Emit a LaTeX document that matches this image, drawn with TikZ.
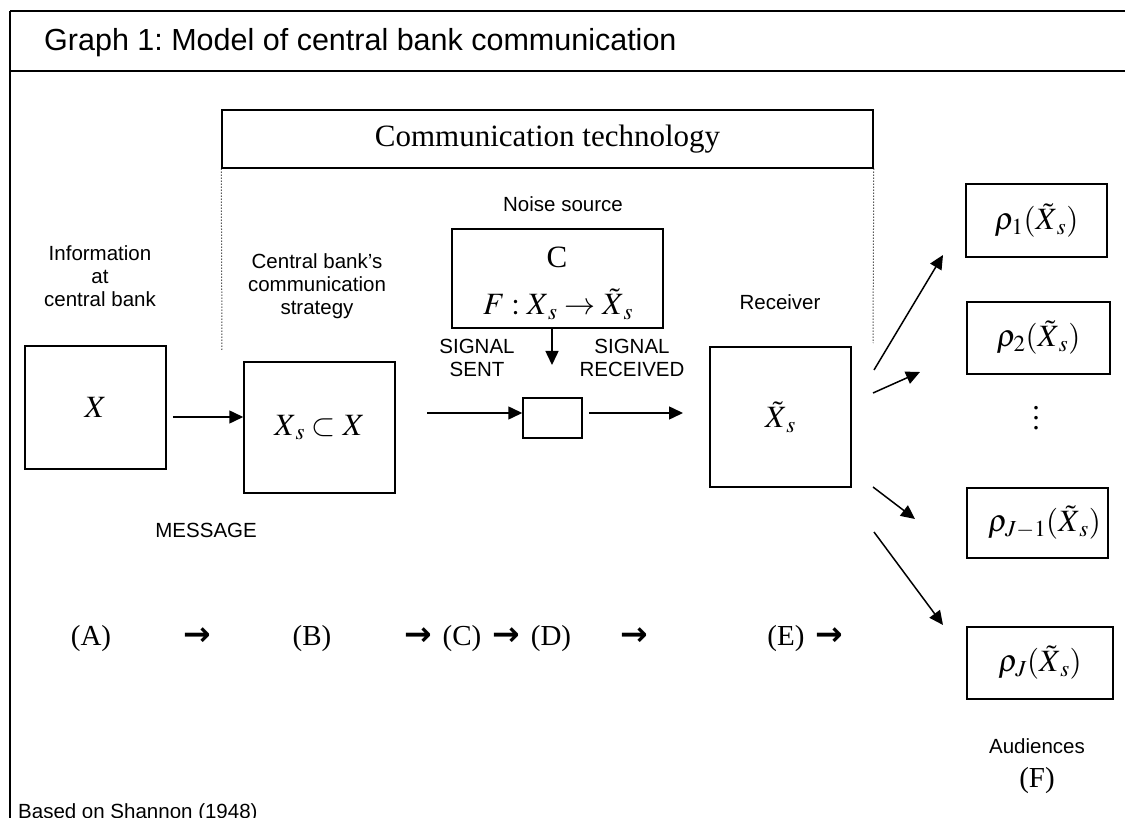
\documentclass[tikz,border=0pt]{standalone}
\usepackage{mathptmx}
\usepackage{fontspec}
\setmainfont{Liberation Serif}
\setsansfont{Liberation Sans}
\newfontfamily\arrowfont{DejaVu Sans}
\usetikzlibrary{arrows.meta,calc}
\frenchspacing
\tikzset{
  box/.style={draw, line width=1.5pt, inner sep=0pt},
  arr/.style={-{Triangle[length=14pt,width=13pt]}, line width=1.5pt},
  lab/.style={font=\sffamily\fontsize{20.5}{23}\selectfont, inner sep=0pt, align=center},
  tms/.style={font=\fontsize{29}{34}\selectfont, inner sep=0pt},
  mth/.style={font=\fontsize{31}{37}\selectfont, inner sep=0pt},
  tarr/.style={font=\arrowfont\bfseries\fontsize{33}{38}\selectfont, inner sep=0pt},
  dots/.style={dotted, line width=1pt},
  frame/.style={line width=2.5pt},
}
\begin{document}
\begin{tikzpicture}[x=1pt,y=-1pt]
\useasboundingbox (0,0) rectangle (1125,818);
% frame
\coordinate (ftl) at (10,11);
\coordinate (ftr) at (1125,11);
\coordinate (fml) at (10,71);
\coordinate (fmr) at (1125,71);
\coordinate (fbl) at (10,818);
\draw[frame] (ftl) -- (ftr);
\draw[frame] (fml) -- (fmr);
\draw[line width=2pt] (ftl) -- (fbl);
\node[anchor=base west, inner sep=0pt, font=\sffamily\fontsize{30.5}{36}\selectfont] (title) at (44,51) {Graph 1: Model of central bank communication};

% communication technology
\node[box, minimum width=651pt, minimum height=58pt, font=\fontsize{31}{37}\selectfont] (comm) at (547.5,139) {Communication technology};
\coordinate (dl) at (222,351);
\coordinate (dr) at (873,343);
\draw[dots] (comm.south west) -- (dl);
\draw[dots] (comm.south east) -- (dr);

% A: information
\node[lab, anchor=north] (info) at (100,245) {Information\\at\\central bank};
\node[box, minimum width=141pt, minimum height=123pt, mth] (X) at (95.5,407.5) {$X$};

% B: strategy
\node[lab, anchor=north] (strat) at (317,253) {Central bank's\\communication\\strategy};
\node[box, minimum width=151pt, minimum height=131pt, mth] (Xs) at (319.5,427.5) {$X_{\kern3pt s}\subset X$};
\node[lab, anchor=base east] (msg) at (257,537) {MESSAGE};
\draw[arr] ($(X.east|-0,417)+(6,0)$) -- (Xs.west|-0,417);

% C: noise
\node[lab, anchor=base] (noise) at (563,212) {Noise source};
\node[box, minimum width=211pt, minimum height=99pt] (C) at (557.5,278.5) {};
\node[mth, anchor=base] (Cl) at (557,268) {C};
\node[mth, anchor=base] (Fl) at (558,315) {$F:X_{\kern3pt s}\rightarrow\tilde{X}_{\kern3pt s}$};
\coordinate (ctip) at (552,365);
\draw[arr] ($(C.south)+(-5.5,0)$) -- (ctip);

% D: channel
\node[box, minimum width=59pt, minimum height=40pt] (D) at (552.5,418) {};
\node[lab, anchor=base] (ss) at (477,377) {SIGNAL\\SENT};
\node[lab, anchor=base] (sr) at (632,377) {SIGNAL\\RECEIVED};
\coordinate (sstart) at (427,413);
\coordinate (rtip) at (683,413);
\draw[arr] (sstart) -- (D.west|-0,413);
\draw[arr] ($(D.east|-0,413)+(6,0)$) -- (rtip);

% E: receiver
\node[lab, anchor=base] (recl) at (780,310) {Receiver};
\node[box, minimum width=141pt, minimum height=140pt, mth] (E) at (780.5,417) {$\tilde{X}_{\kern3pt s}$};

% F: audiences
\node[box, minimum width=141pt, minimum height=73pt, mth] (r1) at (1036.5,220.5) {$\rho_1(\tilde{X}_{\kern3pt s})$};
\node[box, minimum width=143pt, minimum height=72pt, mth] (r2) at (1038.5,338) {$\rho_2(\tilde{X}_{\kern3pt s})$};
\node[font=\fontsize{30}{10}\selectfont, inner sep=0pt, align=center] (vd) at (1036,418) {.\\.\\.};
\node[box, minimum width=141pt, minimum height=70pt, mth] (r3) at (1037.5,523) {\hspace*{14pt}$\rho_{J-1}(\tilde{X}_{\kern3pt s})$};
\node[box, minimum width=146pt, minimum height=72pt, mth] (r4) at (1040,663) {$\rho_J(\tilde{X}_{\kern3pt s})$};
\node[lab, anchor=base] (aud) at (1037,753) {Audiences};
\node[tms, anchor=base] (Fl2) at (1037,787) {(F)};

\coordinate (e1s) at (874,370); \coordinate (e1t) at (943,255);
\coordinate (e2s) at (873,393); \coordinate (e2t) at (920,372);
\coordinate (e3s) at (873,487); \coordinate (e3t) at (915,519);
\coordinate (e4s) at (874,532); \coordinate (e4t) at (943,625);
\draw[arr] (e1s) -- (e1t);
\draw[arr] (e2s) -- (e2t);
\draw[arr] (e3s) -- (e3t);
\draw[arr] (e4s) -- (e4t);

% bottom row
\node[tms, anchor=base] (lA) at (91,645) {(A)};
\node[tarr, anchor=base] (t1) at (197,645) {→};
\node[tms, anchor=base] (lB) at (312,645) {(B)};
\node[tarr, anchor=base] (t2) at (418,645) {→};
\node[tms, anchor=base] (lC) at (462,645) {(C)};
\node[tarr, anchor=base] (t3) at (506,645) {→};
\node[tms, anchor=base] (lD) at (551,645) {(D)};
\node[tarr, anchor=base] (t4) at (634,645) {→};
\node[tms, anchor=base] (lE) at (786,645) {(E)};
\node[tarr, anchor=base] (t5) at (829,645) {→};

\node[lab, anchor=base west] (src) at (18,818) {Based on Shannon (1948)};
\end{tikzpicture}
\end{document}
